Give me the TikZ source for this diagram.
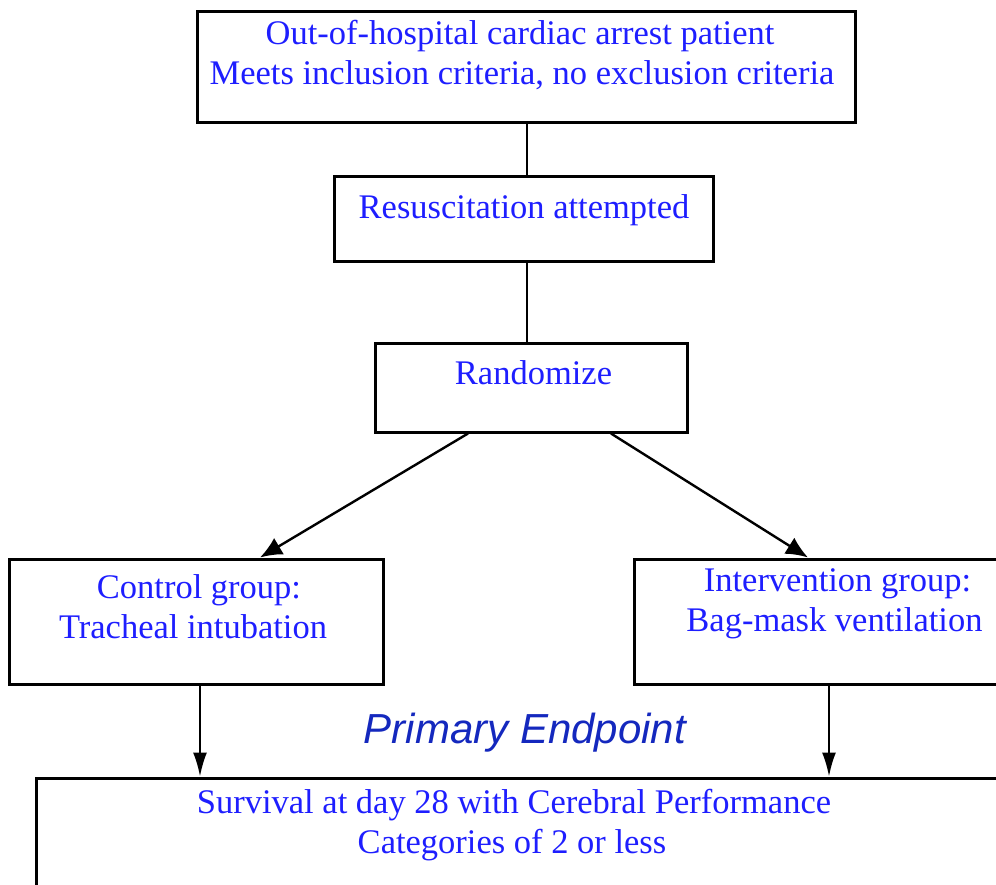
\documentclass[tikz,border=0pt]{standalone}
\usepackage{fontspec}
\setmainfont{Liberation Serif}
\newfontfamily\arialfont{Liberation Sans}
\usetikzlibrary{arrows.meta}
\definecolor{txtblue}{RGB}{30,30,255}
\definecolor{pepblue}{RGB}{20,40,190}
\tikzset{
  box/.style={draw=black, line width=3pt, rectangle, inner sep=0pt},
  txt/.style={text=txtblue, font=\fontsize{34.5}{40}\selectfont, anchor=base, inner sep=0pt},
  conn/.style={draw=black, line width=2.4pt},
  diagarr/.style={draw=black, line width=2.4pt, -{Latex[length=22pt,width=19pt]}},
  downarr/.style={draw=black, line width=2pt, -{Latex[length=24pt,width=14pt]}},
}
\begin{document}
\begin{tikzpicture}[x=1pt,y=-1pt]
\useasboundingbox (0,0) rectangle (996,884);
\clip (0,0) rectangle (996,884);
\fill[white] (0,0) rectangle (996,884);
% boxes
\node[box, minimum width=658pt, minimum height=111pt] (b1) at (526,66.5) {};
\node[box, minimum width=379pt, minimum height=85pt] (b2) at (523.5,218.5) {};
\node[box, minimum width=312pt, minimum height=89pt] (b3) at (531,387.5) {};
\node[box, minimum width=374pt, minimum height=125pt] (bc) at (196.5,621.5) {};
\node[box, minimum width=402pt, minimum height=125pt] (bi) at (835,621.5) {};
\node[box, minimum width=964pt, minimum height=142pt] (bo) at (518,849) {};
% texts
\node[txt] (t1a) at (520,44) {Out-of-hospital cardiac arrest patient};
\node[txt] (t1b) at (522,84) {Meets inclusion criteria, no exclusion criteria};
\node[txt] (t2) at (524,218) {Resuscitation attempted};
\node[txt] (t3) at (533.5,384) {Randomize};
\node[txt] (tca) at (199,598) {Control group:};
\node[txt] (tcb) at (193,638) {Tracheal intubation};
\node[txt] (tia) at (837.5,591) {Intervention group:};
\node[txt] (tib) at (834.5,631) {Bag-mask ventilation};
\node[txt] (toa) at (514,813) {Survival at day 28 with Cerebral Performance};
\node[txt] (tob) at (512,853) {Categories of 2 or less};
\node[text=pepblue, font=\arialfont\itshape\fontsize{42}{48}\selectfont, anchor=base, inner sep=0pt] (pe) at (525,743) {Primary Endpoint};
% connectors
\draw[conn] ([xshift=1pt]b1.south) -- ([xshift=3.5pt]b2.north);
\draw[conn] ([xshift=3.5pt]b2.south) -- ([xshift=-4pt]b3.north);
\draw[diagarr] ([xshift=-63pt]b3.south) -- ([xshift=63.5pt]bc.north);
\draw[diagarr] ([xshift=80pt]b3.south) -- ([xshift=-27pt]bi.north);
\draw[downarr] ([xshift=3.5pt]bc.south) -- ([xshift=-318pt]bo.north);
\draw[downarr] ([xshift=-6pt]bi.south) -- ([xshift=311pt]bo.north);
\end{tikzpicture}
\end{document}
